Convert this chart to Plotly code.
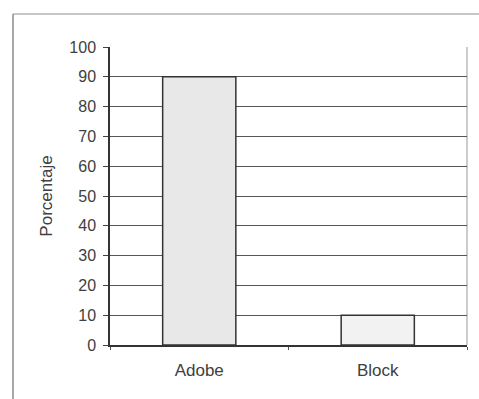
import plotly.graph_objects as go

categories = ["Adobe", "Block"]
values = [90, 10]
y_ticks = [0, 10, 20, 30, 40, 50, 60, 70, 80, 90, 100]
y_title = "Porcentaje"

W, H = 479, 399
ML, MR, MT, MB = 110, 12, 47, 54
PW, PH = W - ML - MR, H - MT - MB

def px_x(p):
    return (p - ML) / PW

def px_y(p):
    return (H - MB - p) / PH

FONT = "Liberation Sans, Arial, sans-serif"
TXT = "#404040"

fig = go.Figure()
fig.add_trace(go.Bar(
    x=categories, y=values, width=0.41,
    marker=dict(color=["#e8e8e8", "#f2f2f2"], line=dict(color="#333333", width=1.5)),
    showlegend=False,
))

shapes = [
    # outer chart frame (top and left edges visible)
    dict(type="line", xref="paper", yref="paper", x0=px_x(13), x1=px_x(479), y0=px_y(14), y1=px_y(14),
         line=dict(color="#b5b5b5", width=1.5), layer="below"),
    dict(type="line", xref="paper", yref="paper", x0=px_x(13), x1=px_x(13), y0=px_y(14), y1=px_y(399),
         line=dict(color="#8a8a8a", width=1.5), layer="below"),
    # plot-area right border
    dict(type="line", xref="paper", yref="paper", x0=1, x1=1, y0=0, y1=1,
         line=dict(color="#9a9a9a", width=1), layer="below"),
]

fig.update_layout(
    width=W, height=H,
    margin=dict(l=ML, r=MR, t=MT, b=MB, pad=0),
    paper_bgcolor="white", plot_bgcolor="white",
    font=dict(family=FONT, size=16, color=TXT),
    bargap=0.59,
    shapes=shapes,
    xaxis=dict(
        type="category", showgrid=False, showline=True, linecolor="#333333", linewidth=1.5,
        ticks="outside", tickson="boundaries", ticklen=3, tickcolor="#555555",
        tickfont=dict(size=17, color=TXT), ticklabelstandoff=9,
        zeroline=False,
    ),
    yaxis=dict(
        range=[0, 100], tickvals=y_ticks, showgrid=True, gridcolor="#555555", gridwidth=1,
        showline=True, linecolor="#333333", linewidth=1.5,
        ticks="outside", ticklen=5, tickcolor="#444444",
        tickfont=dict(size=16, color=TXT), ticklabelstandoff=4, zeroline=False,
        title=dict(text=y_title, font=dict(size=17, color=TXT), standoff=12),
    ),
)

fig.write_html("out.html")
